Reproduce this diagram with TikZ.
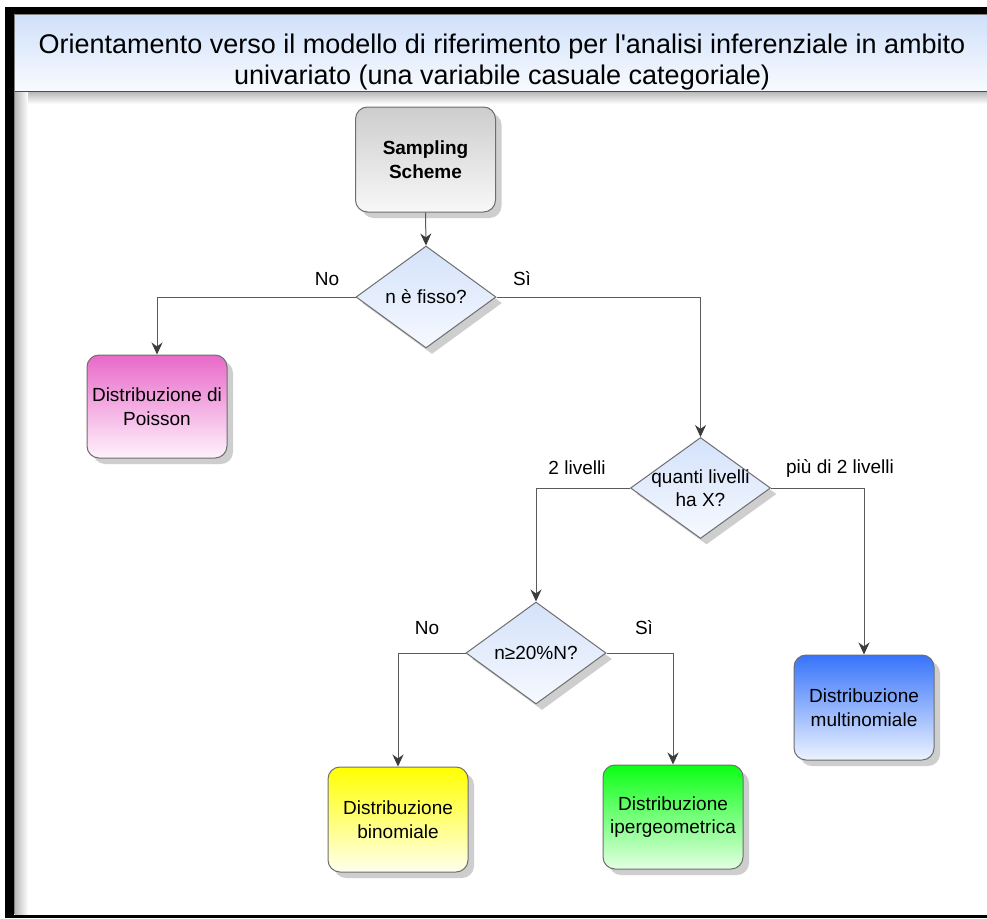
\documentclass[tikz,border=0pt]{standalone}
\usepackage{fontspec}
\newfontfamily\arialfont{Liberation Sans}
\usetikzlibrary{shapes.geometric,shadows,arrows.meta}
\definecolor{boxline}{RGB}{110,110,110}
\definecolor{linegray}{RGB}{90,90,90}
\definecolor{tipgray}{RGB}{60,60,60}
\definecolor{titletop}{RGB}{208,224,250}
\definecolor{titlebot}{RGB}{248,251,255}
\definecolor{dtop}{RGB}{212,226,250}
\definecolor{dbot}{RGB}{246,249,255}
\definecolor{samptop}{RGB}{205,205,205}
\definecolor{sampbot}{RGB}{248,248,248}
\definecolor{poistop}{RGB}{232,105,200}
\definecolor{poisbot}{RGB}{255,242,252}
\definecolor{multtop}{RGB}{55,115,250}
\definecolor{multbot}{RGB}{236,243,255}
\definecolor{bintop}{RGB}{255,255,0}
\definecolor{binbot}{RGB}{255,255,238}
\definecolor{ipetop}{RGB}{10,255,20}
\definecolor{ipebot}{RGB}{228,255,228}
\newcommand\mynodefont{\arialfont\fontsize{19}{23.5}\selectfont}
\begin{document}
\begin{tikzpicture}[x=1pt,y=-1pt,
  shad/.style={drop shadow={shadow xshift=6pt,shadow yshift=-6pt,fill=gray!75,opacity=0.5}},
  box/.style={rectangle, rounded corners=12pt, draw=boxline, line width=1pt,
    minimum width=140pt, minimum height=104pt, inner sep=2pt, align=center,
    font=\mynodefont, shad},
  decision/.style={diamond, draw=boxline, line width=1pt, minimum width=140pt,
    minimum height=102pt, inner sep=0pt, top color=dtop, bottom color=dbot, shad},
  dtext/.style={align=center, font=\mynodefont, inner sep=0pt},
  lbl/.style={font=\mynodefont, inner sep=0pt},
  conn/.style={draw=linegray, line width=1pt, -{Stealth[length=12pt,width=11pt,color=tipgray]}}
]
\useasboundingbox (0,0) rectangle (987,918);
% frame
\fill[white] (0,0) rectangle (987,918);
\fill[black] (5,7) rectangle (987,918);
\fill[white] (14,14) rectangle (987,914.5);
\draw[gray, line width=1pt] (14.5,914) -- (14.5,14.5) -- (987,14.5);
% title bar
\shade[top color=titletop, bottom color=titlebot] (15,15) rectangle (987,91);
\draw[gray!60!black, line width=1.2pt] (15,91.5) -- (987,91.5);
\shade[top color=gray!55, bottom color=white] (15,92) rectangle (987,104);
\shade[left color=gray!55, right color=white] (15,92) rectangle (28,914);
\node[align=center, font=\arialfont\fontsize{27}{31}\selectfont, inner sep=0pt] (title) at (502,62)
  {Orientamento verso il modello di riferimento per l'analisi inferenziale in ambito\\univariato (una variabile casuale categoriale)};
% nodes
\node[box, top color=samptop, bottom color=sampbot, minimum height=105pt] (samp) at (425.5,159.5)
  {\bfseries Sampling\\\bfseries Scheme};
\node[decision] (d1) at (426,297) {};
\node[dtext] (d1t) at (d1.center) {n è fisso?};
\node[box, top color=poistop, bottom color=poisbot, minimum height=103pt] (pois) at (157,406.5)
  {Distribuzione di\\Poisson};
\node[decision, minimum height=101pt] (d2) at (700.5,488) {};
\node[dtext] (d2t) at (700.5,488) {quanti livelli\\ha X?};
\node[decision] (d3) at (536,653) {};
\node[dtext] (d3t) at (d3.center) {n≥20\%N?};
\node[box, top color=multtop, bottom color=multbot, minimum height=105pt] (mult) at (864,707.5)
  {Distribuzione\\multinomiale};
\node[box, top color=bintop, bottom color=binbot, minimum height=105pt] (bin) at (398,819.5)
  {Distribuzione\\binomiale};
\node[box, top color=ipetop, bottom color=ipebot] (ipe) at (673,817)
  {Distribuzione\\ipergeometrica};
% connectors
\draw[conn] (samp.south) -- (d1.north);
\draw[conn] (d1.west) -| (pois.north);
\draw[conn] (d1.east) -| (d2.north);
\draw[conn] (d2.west) -| (d3.north);
\draw[conn] (d2.east) -| (mult.north);
\draw[conn] (d3.west) -| (bin.north);
\draw[conn] (d3.east) -| (ipe.north);
% labels
\node[lbl] (l1) at (327,279) {No};
\node[lbl] (l2) at (522,279) {Sì};
\node[lbl] (l3) at (577,468) {2 livelli};
\node[lbl] (l4) at (840,468) {più di 2 livelli};
\node[lbl] (l5) at (427,628) {No};
\node[lbl] (l6) at (644,628) {Sì};
\end{tikzpicture}
\end{document}
